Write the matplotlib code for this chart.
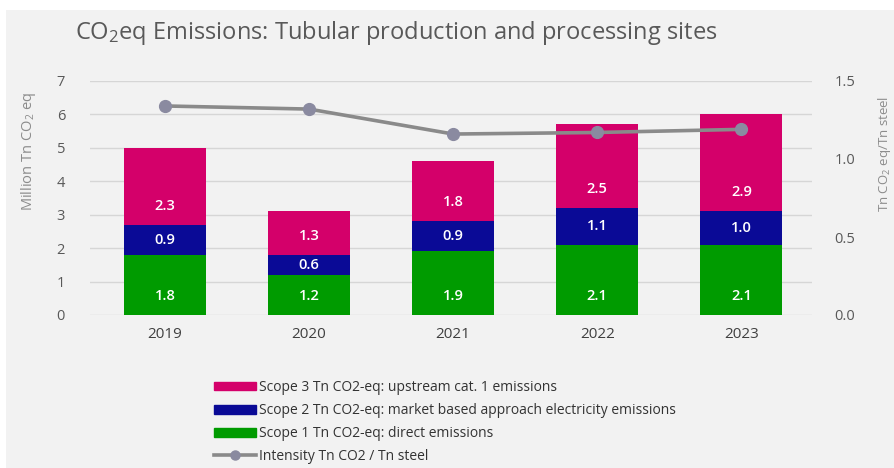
import matplotlib
matplotlib.use("Agg")
import matplotlib.pyplot as plt
import matplotlib.patches as mpatches
from matplotlib.lines import Line2D
import numpy as np

plt.rcParams["font.family"] = ["Open Sans", "DejaVu Sans"]
plt.rcParams["mathtext.default"] = "regular"

# ── Data ──
years = ["2019", "2020", "2021", "2022", "2023"]
scope1 = [1.8, 1.2, 1.9, 2.1, 2.1]
scope2 = [0.9, 0.6, 0.9, 1.1, 1.0]
scope3 = [2.3, 1.3, 1.8, 2.5, 2.9]
intensity = [1.34, 1.32, 1.16, 1.17, 1.19]

series_labels = [
    "Scope 1 Tn CO2-eq: direct emissions",
    "Scope 2 Tn CO2-eq: market based approach electricity emissions",
    "Scope 3 Tn CO2-eq: upstream cat. 1 emissions",
]
line_label = "Intensity Tn CO2 / Tn steel"

# ── Colours ──
C_S1 = "#009b00"
C_S2 = "#0a0a96"
C_S3 = "#d4006a"
C_LINE = "#8a8a8a"
C_MARK = "#8a8aa0"
C_TXT = "#595959"
C_BG = "#f2f2f2"

fig = plt.figure(figsize=(8.94, 4.68), dpi=100, facecolor="white")
fig.patches.append(mpatches.Rectangle((6 / 894, 0), 1, 1 - 10 / 468,
                                      transform=fig.transFigure,
                                      facecolor=C_BG, edgecolor="none", zorder=-10))

ax = fig.add_axes([90 / 894, 1 - 315 / 468, 722 / 894, 234 / 468])
ax.set_facecolor("none")

x = np.arange(len(years))
width = 0.57
bottom = np.zeros(len(years))
for vals, col in zip([scope1, scope2, scope3], [C_S1, C_S2, C_S3]):
    vals = np.array(vals)
    ax.bar(x, vals, width, bottom=bottom, color=col, zorder=3)
    for xi, b, v in zip(x, bottom, vals):
        ax.text(xi, b + min(v / 2, 0.57), f"{v:.1f}", ha="center", va="center",
                color="white", fontsize=10.5, fontweight="semibold", zorder=4)
    bottom = bottom + vals

ax.set_xlim(-0.52, 4.49)
ax.set_ylim(0, 7)
ax.set_yticks(range(8))
ax.yaxis.grid(True, color="#d6d6d6", linewidth=1.0, zorder=0)
ax.set_axisbelow(True)
ax.set_xticks(x)
ax.set_xticklabels(years, fontsize=11, color="#404040")
ax.tick_params(axis="both", length=0)
ax.tick_params(axis="y", labelsize=10.5, labelcolor=C_TXT, pad=18)
ax.tick_params(axis="x", pad=9)
for s in ax.spines.values():
    s.set_visible(False)

ax.set_ylabel("Million Tn CO$_2$ eq", fontsize=10.5, color="#8c8c8c")
ax.yaxis.set_label_coords(-0.072, 0.70)

# ── Intensity line on right axis ──
ax2 = ax.twinx()
ax2.plot(x, intensity, color=C_LINE, linewidth=2.6, marker="o", markersize=8.5,
         markerfacecolor=C_MARK, markeredgecolor=C_MARK, zorder=5)
ax2.set_ylim(0, 1.5)
ax2.set_yticks([0, 0.5, 1.0, 1.5])
ax2.set_yticklabels(["0.0", "0.5", "1.0", "1.5"])
ax2.tick_params(axis="y", length=0, labelsize=10.5, labelcolor=C_TXT, pad=16)
for s in ax2.spines.values():
    s.set_visible(False)

fig.text(893 / 894, 1 - 154 / 468, "Tn CO$_2$ eq/Tn steel", rotation=90,
         ha="right", va="center", fontsize=9.5, color="#8c8c8c")

# ── Title ──
fig.text(75 / 894, 1 - 33 / 468,
         "CO$_2$eq Emissions: Tubular production and processing sites",
         ha="left", va="center", fontsize=17, color=C_TXT)

# ── Legend ──
handles = [
    mpatches.Patch(color=C_S3, label=series_labels[2]),
    mpatches.Patch(color=C_S2, label=series_labels[1]),
    mpatches.Patch(color=C_S1, label=series_labels[0]),
    Line2D([0], [0], color=C_LINE, linewidth=2.6, marker="o", markersize=6.5,
           markerfacecolor=C_MARK, markeredgecolor=C_MARK, label=line_label),
]
leg = fig.legend(handles=handles, loc="upper left",
                 bbox_to_anchor=(207 / 894, 1 - 373 / 468),
                 frameon=False, fontsize=10, handlelength=3.0, handleheight=0.6,
                 handletextpad=0.25, labelspacing=0.58, borderpad=0)
for t in leg.get_texts():
    t.set_color("#333333")

fig.savefig("out.png", dpi=100, facecolor="white")
